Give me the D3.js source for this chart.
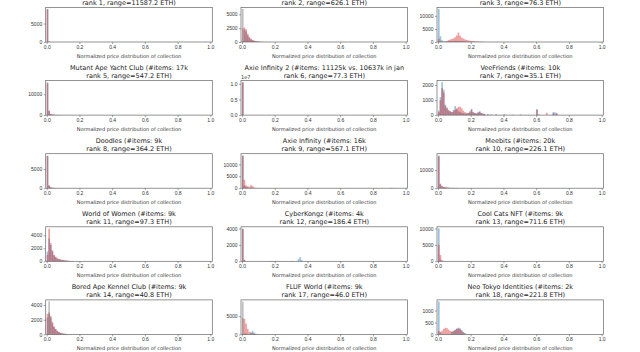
<!DOCTYPE html>
<html><head><meta charset="utf-8">
<script src="https://cdn.jsdelivr.net/npm/d3@7"></script>
<style>body{margin:0;background:#fff}svg{display:block;font-family:"DejaVu Sans",sans-serif}</style>
</head><body><svg id="c" width="640" height="352"></svg>
<script>
// ---- data ----
const titleLine1 = ["", "", "",
  "Mutant Ape Yacht Club (#items: 17k", "Axie Infinity 2 (#items: 11125k vs. 10637k in jan", "VeeFriends (#items: 10k",
  "Doodles (#items: 9k", "Axie Infinity (#items: 16k", "Meebits (#items: 20k",
  "World of Women (#items: 9k", "CyberKongz (#items: 4k", "Cool Cats NFT (#items: 9k",
  "Bored Ape Kennel Club (#items: 9k", "FLUF World (#items: 9k", "Neo Tokyo Identities (#items: 2k"];
const titleLine2 = ["rank 1, range=11587.2 ETH)", "rank 2, range=626.1 ETH)", "rank 3, range=76.3 ETH)",
  "rank 5, range=547.2 ETH)", "rank 6, range=77.3 ETH)", "rank 7, range=35.1 ETH)",
  "rank 8, range=364.2 ETH)", "rank 9, range=567.1 ETH)", "rank 10, range=226.1 ETH)",
  "rank 11, range=97.3 ETH)", "rank 12, range=186.4 ETH)", "rank 13, range=711.6 ETH)",
  "rank 14, range=40.8 ETH)", "rank 17, range=46.0 ETH)", "rank 18, range=221.8 ETH)"];
const yMax = [9350, 6230, 13200, 16500, 1.1e7, 2300, 9000, 14500, 19000, 5300, 4200, 10500, 4700, 9500, 1450];
const yTicks = [[0,5000],[0,2500,5000],[0,5000,10000],[0,10000],[0,5e6,1e7],[0,1000,2000],
  [0,5000],[0,5000,10000],[0,10000],[0,2000,4000],[0,2000,4000],[0,5000,10000],[0,2000,4000],[0,5000],[0,500,1000]];
const xTicks = [0, 0.2, 0.4, 0.6, 0.8, 1.0];
const binWidth = 0.01;
// histogram bins: [bin start, count]
const blueBins = [
  [[0,8900]],
  [[0.01,2200],[0.02,1900],[0.03,1200],[0.04,750],[0.05,450],[0.06,300],[0.07,190],[0.08,120],[0.09,80],[0.1,55],[0.11,35],[0.12,25],[0.13,15]],
  [[0,12600],[0.01,2200],[0.02,700],[0.03,300],[0.04,250],[0.05,250],[0.06,300],[0.07,320],[0.08,330],[0.09,350],[0.1,380],[0.11,350],[0.12,320],[0.13,300],[0.14,280],[0.15,250],[0.16,220],[0.17,200],[0.18,160],[0.19,130],[0.2,100],[0.21,80],[0.22,60]],
  [[0,15700],[0.01,1800],[0.02,500],[0.03,250],[0.04,150],[0.05,100],[0.06,80],[0.07,60],[0.08,40]],
  [[0,1.05e7]],
  [[0,300],[0.01,1200],[0.02,2200],[0.03,1700],[0.04,700],[0.05,500],[0.06,300],[0.07,250],[0.08,200],[0.09,350],[0.1,600],[0.11,400],[0.12,250],[0.13,200],[0.14,150],[0.15,120],[0.16,100],[0.17,90],[0.18,150],[0.19,250],[0.2,420],[0.21,200],[0.22,150],[0.23,120],[0.24,200],[0.25,260],[0.26,150],[0.27,100],[0.28,80],[0.3,60],[0.32,50],[0.35,50],[0.4,40],[0.45,30],[0.5,30],[0.55,20],[0.6,400],[0.61,60],[0.7,200],[0.71,180],[0.72,120]],
  [[0,8500],[0.01,600],[0.02,200],[0.03,100],[0.04,60],[0.05,40],[0.06,30],[0.08,20],[0.1,15]],
  [[0,13800],[0.01,1200],[0.02,500],[0.03,300],[0.05,200],[0.9,100],[0.91,120],[0.92,80]],
  [[0,18000],[0.01,2500],[0.02,1000],[0.03,600],[0.04,400],[0.05,300],[0.06,250],[0.08,200],[0.1,150],[0.12,120],[0.15,100],[0.2,80],[0.25,60]],
  [[0,1500],[0.01,3500],[0.02,2500],[0.03,1500],[0.04,900],[0.05,600],[0.06,400],[0.07,300],[0.08,250],[0.09,200],[0.1,150],[0.11,120],[0.12,100],[0.14,60],[0.16,40]],
  [[0,4000],[0.01,150],[0.17,40],[0.2,60],[0.22,40],[0.3,50],[0.34,250],[0.35,500],[0.36,150]],
  [[0,10000],[0.01,500],[0.02,150]],
  [[0,2300],[0.01,2800],[0.02,2300],[0.03,1500],[0.04,1000],[0.05,700],[0.06,450],[0.07,300],[0.08,200],[0.09,150],[0.1,100],[0.11,70],[0.12,50]],
  [[0.01,300],[0.02,300],[0.05,600],[0.06,1000],[0.07,500],[0.08,200],[0.1,100]],
  [[0,1380],[0.01,100],[0.08,100],[0.09,150],[0.1,200],[0.11,250],[0.12,280],[0.13,250],[0.14,180],[0.15,100],[0.16,50]]
];
const redBins = [
  [[0,8900],[0.01,200]],
  [[0,2500],[0.01,2600],[0.02,2300],[0.03,1500],[0.04,950],[0.05,600],[0.06,380],[0.07,240],[0.08,160],[0.09,100],[0.1,70],[0.11,45],[0.12,30],[0.13,20],[0.14,12]],
  [[0,1200],[0.01,400],[0.04,150],[0.05,350],[0.06,700],[0.07,950],[0.08,1150],[0.09,1400],[0.1,1800],[0.11,2500],[0.12,3600],[0.13,2400],[0.14,1700],[0.15,1300],[0.16,1000],[0.17,750],[0.18,600],[0.19,480],[0.2,400],[0.21,330],[0.22,280],[0.23,230],[0.24,190],[0.25,150],[0.26,110],[0.27,80],[0.28,50]],
  [[0,15200],[0.01,2200],[0.02,600],[0.03,300],[0.04,180],[0.05,120],[0.06,90],[0.07,70],[0.08,50],[0.09,30]],
  [[0,1.04e7]],
  [[0,200],[0.01,1000],[0.02,1800],[0.03,1500],[0.04,600],[0.05,450],[0.06,350],[0.07,250],[0.08,200],[0.09,250],[0.1,350],[0.11,450],[0.12,550],[0.13,560],[0.14,450],[0.15,300],[0.16,200],[0.17,150],[0.18,130],[0.19,180],[0.2,350],[0.21,180],[0.22,130],[0.23,100],[0.24,150],[0.25,200],[0.26,130],[0.27,90],[0.28,70],[0.3,50],[0.35,40],[0.4,30],[0.5,25],[0.6,350],[0.66,150],[0.7,100],[0.72,120]],
  [[0,8400],[0.01,800],[0.02,250],[0.03,120],[0.04,70],[0.05,50],[0.07,30],[0.1,20],[0.15,10]],
  [[0,13500],[0.01,3500],[0.02,1200],[0.03,800],[0.04,600],[0.05,1300],[0.06,900],[0.07,300],[0.08,150],[0.1,80],[0.85,60],[0.9,80],[0.93,60]],
  [[0,17500],[0.01,2000],[0.02,1200],[0.03,700],[0.04,500],[0.05,400],[0.06,300],[0.07,250],[0.09,200],[0.11,150],[0.14,120],[0.18,100],[0.22,70],[0.28,50]],
  [[0,1000],[0.01,5000],[0.02,2800],[0.03,1700],[0.04,1000],[0.05,700],[0.06,500],[0.07,350],[0.08,280],[0.09,220],[0.1,170],[0.11,130],[0.12,110],[0.13,90],[0.15,60],[0.18,30]],
  [[0,3900],[0.01,200],[0.18,30],[0.25,20]],
  [[0,5000],[0.01,1900],[0.02,300],[0.03,100]],
  [[0,2800],[0.01,3000],[0.02,2500],[0.03,1700],[0.04,1100],[0.05,750],[0.06,500],[0.07,330],[0.08,230],[0.09,160],[0.1,110],[0.11,80],[0.12,50],[0.14,30]],
  [[0,4500],[0.01,4300],[0.02,3000],[0.03,1500],[0.04,700],[0.05,400],[0.06,300],[0.07,200],[0.08,100]],
  [[0,150],[0.01,80],[0.02,150],[0.03,230],[0.04,280],[0.05,260],[0.06,200],[0.07,140],[0.08,120],[0.09,140],[0.1,180],[0.11,220],[0.12,250],[0.13,220],[0.14,150],[0.15,80],[0.16,40]]
];
const grayBins = [[],[[0,5950]],[],[],[],[],[],[],[],[],[],[],[[0.01,4500]],[[0,9000]],[]];
const seriesColors = ["#1f77b4", "#d62728", "#8c8c8c"];

// ---- layout ----
const svg = d3.select("#c");
const colLeft = [45.7, 241, 437];
const plotW = 166.6, plotH = 34.5;
const rowBottom = r => 42 + 73.1 * r;

titleLine2.forEach((t2, i) => {
  const r = Math.floor(i / 3), c = i % 3;
  const x0 = colLeft[c], y1 = rowBottom(r), y0 = y1 - plotH;
  const x = d3.scaleLinear().domain([-0.006, 1.012]).range([x0, x0 + plotW]);
  const y = d3.scaleLinear().domain([0, yMax[i]]).range([y1, y0]);
  const g = svg.append("g");
  const series = [blueBins[i], redBins[i], grayBins[i]];
  series.forEach((bins, s) => {
    g.append("g").selectAll("rect").data(bins).join("rect")
      .attr("x", d => x(d[0]))
      .attr("width", d => x(d[0] + binWidth) - x(d[0]))
      .attr("y", d => y(d[1]))
      .attr("height", d => y1 - y(d[1]))
      .attr("fill", seriesColors[s])
      .attr("fill-opacity", s === 2 ? 0.55 : 0.45);
  });
  // frame
  g.append("rect").attr("x", x0).attr("y", y0).attr("width", plotW).attr("height", plotH)
    .attr("fill", "none").attr("stroke", "#666").attr("stroke-width", 0.7);
  // axes
  const xa = g.append("g").attr("transform", `translate(0,${y1})`)
    .call(d3.axisBottom(x).tickValues(xTicks).tickFormat(d3.format(".1f")).tickSize(2).tickPadding(1.5));
  const isE7 = yMax[i] > 1e6;
  const ya = g.append("g").attr("transform", `translate(${x0},0)`)
    .call(d3.axisLeft(y).tickValues(yTicks[i]).tickSize(2).tickPadding(1.5)
      .tickFormat(isE7 ? (d => (d / 1e7).toFixed(1)) : d3.format("d")));
  [xa, ya].forEach(a => {
    a.select(".domain").remove();
    a.selectAll("line").attr("stroke", "#666").attr("stroke-width", 0.6);
    a.selectAll("text").attr("fill", "#333").style("font-size", "5px");
  });
  if (isE7) {
    g.append("text").attr("x", x0).attr("y", y0 - 1.5).attr("font-size", 5).attr("fill", "#333").text("1e7");
  }
  g.append("text").attr("x", x0 + plotW / 2).attr("y", y1 + 15.5).attr("text-anchor", "middle")
    .attr("font-size", 5).attr("fill", "#333").text("Normalized price distribution of collection");
  const cx = x0 + plotW / 2;
  if (titleLine1[i]) g.append("text").attr("x", cx).attr("y", y0 - 10.5).attr("text-anchor", "middle")
    .attr("font-size", 6.5).attr("fill", "#222").text(titleLine1[i]);
  g.append("text").attr("x", cx).attr("y", y0 - 2.5).attr("text-anchor", "middle")
    .attr("font-size", 6.5).attr("fill", "#222").text(" " + t2);
});
</script></body></html>
